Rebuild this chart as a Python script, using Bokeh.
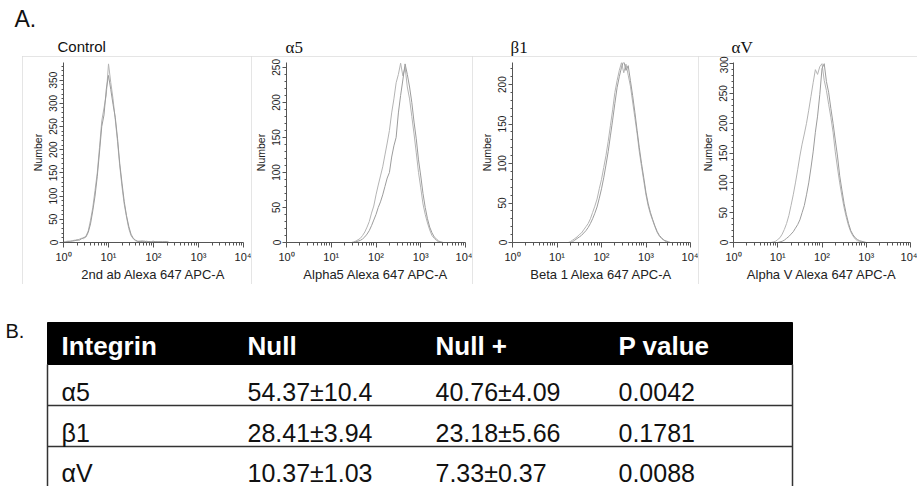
from bokeh.plotting import figure
from bokeh.layouts import column, row
from bokeh.models import Range1d, FixedTicker, SingleIntervalTicker, Label, Spacer
from bokeh.embed import file_html
from bokeh.resources import INLINE
from bokeh.core.properties import value

# ---------------- data ----------------
# Panel A histograms: log10 of fluorescence bin, counts of two overlaid samples
ctrl_logx = [0.00, 0.05, 0.10, 0.15, 0.20, 0.25, 0.30, 0.35, 0.40, 0.45,
             0.50, 0.55, 0.60, 0.65, 0.70, 0.75, 0.80, 0.85, 0.90, 0.95,
             1.00, 1.05, 1.10, 1.15, 1.20, 1.25, 1.30, 1.35, 1.40, 1.45,
             1.50, 1.55, 1.60, 1.65, 1.70, 1.75, 1.80, 1.85, 1.90, 1.95,
             2.00, 2.05, 2.10, 2.15, 2.20, 2.25, 2.30, 2.35, 2.40]
ctrl_a = [0, 2, 3, 2, 4, 5, 4, 7, 9, 8,
          14, 25, 48, 75, 112, 150, 205, 262, 290, 318,
          385, 345, 310, 265, 218, 165, 120, 82, 55, 30,
          15, 8, 4, 3, 2, 4, 2, 3, 1, 2,
          3, 1, 2, 1, 2, 1, 2, 0, 0]
ctrl_b = [1, 1, 2, 3, 3, 4, 6, 5, 8, 11,
          12, 22, 40, 68, 100, 142, 195, 250, 275, 330,
          360, 330, 298, 270, 225, 170, 128, 88, 58, 35,
          18, 9, 5, 2, 3, 2, 3, 1, 2, 1,
          2, 2, 1, 2, 1, 2, 1, 0, 0]

a5_logx = [1.40, 1.45, 1.50, 1.55, 1.60, 1.65, 1.70, 1.75, 1.80, 1.85,
           1.90, 1.95, 2.00, 2.05, 2.10, 2.15, 2.20, 2.25, 2.30, 2.35,
           2.40, 2.45, 2.50, 2.55, 2.60, 2.65, 2.70, 2.75, 2.80, 2.85,
           2.90, 2.95, 3.00, 3.05, 3.10, 3.15, 3.20, 3.25, 3.30, 3.35,
           3.40, 3.45, 3.50, 3.55, 3.60]
a5_a = [0, 0, 1, 2, 4, 6, 10, 15, 22, 30,
        42, 52, 68, 82, 95, 108, 125, 142, 160, 185,
        205, 228, 240, 256, 238, 250, 222, 205, 180, 155,
        128, 100, 78, 55, 40, 28, 18, 10, 6, 3,
        1, 0, 0, 0, 0]
a5_b = [0, 0, 0, 1, 2, 3, 5, 8, 12, 17,
        24, 32, 40, 50, 58, 68, 80, 92, 100, 122,
        138, 150, 185, 210, 232, 255, 240, 222, 200, 172,
        148, 118, 95, 70, 50, 34, 22, 14, 8, 5,
        2, 1, 0, 0, 0]

b1_logx = [1.20, 1.25, 1.30, 1.35, 1.40, 1.45, 1.50, 1.55, 1.60, 1.65,
           1.70, 1.75, 1.80, 1.85, 1.90, 1.95, 2.00, 2.05, 2.10, 2.15,
           2.20, 2.25, 2.30, 2.35, 2.40, 2.45, 2.50, 2.55, 2.60, 2.65,
           2.70, 2.75, 2.80, 2.85, 2.90, 2.95, 3.00, 3.05, 3.10, 3.15,
           3.20, 3.25, 3.30, 3.35, 3.40, 3.45, 3.50, 3.55, 3.60]
b1_a = [0, 0, 1, 3, 5, 7, 10, 12, 16, 20,
        24, 30, 38, 46, 55, 68, 80, 95, 110, 128,
        148, 168, 190, 205, 218, 228, 215, 226, 212, 198,
        178, 158, 138, 115, 96, 78, 60, 46, 36, 28,
        20, 13, 8, 5, 3, 1, 0, 0, 0]
b1_b = [0, 0, 0, 1, 3, 5, 7, 9, 12, 15,
        19, 24, 30, 37, 45, 56, 68, 82, 98, 115,
        135, 155, 176, 196, 210, 222, 230, 218, 224, 205,
        186, 165, 142, 120, 100, 82, 63, 49, 38, 29,
        21, 14, 9, 6, 3, 2, 1, 0, 0]

av_logx = [0.80, 0.85, 0.90, 0.95, 1.00, 1.05, 1.10, 1.15, 1.20, 1.25,
           1.30, 1.35, 1.40, 1.45, 1.50, 1.55, 1.60, 1.65, 1.70, 1.75,
           1.80, 1.85, 1.90, 1.95, 2.00, 2.05, 2.10, 2.15, 2.20, 2.25,
           2.30, 2.35, 2.40, 2.45, 2.50, 2.55, 2.60, 2.65, 2.70, 2.75,
           2.80, 2.85, 2.90, 2.95, 3.00, 3.05, 3.10]
av_a = [0, 0, 1, 2, 5, 8, 14, 22, 32, 45,
        62, 80, 100, 122, 145, 165, 182, 200, 222, 245,
        268, 290, 282, 295, 300, 272, 255, 232, 210, 185,
        152, 125, 100, 78, 58, 42, 28, 18, 11, 6,
        3, 2, 1, 0, 0, 0, 0]
av_b = [0, 0, 0, 0, 0, 1, 2, 4, 7, 10,
        14, 18, 24, 30, 38, 50, 62, 80, 100, 125,
        152, 185, 212, 248, 292, 300, 270, 252, 225, 200,
        172, 145, 112, 88, 65, 47, 32, 20, 13, 8,
        5, 3, 2, 1, 0, 0, 0]

panel_titles = ["Control", "\u03b15", "\u03b21", "\u03b1V"]
x_labels = ["2nd ab Alexa 647 APC-A", "Alpha5 Alexa 647 APC-A",
            "Beta 1 Alexa 647 APC-A", "Alpha V Alexa 647 APC-A"]
y_max = [388, 257, 228, 302]
x_tick_values = [1, 10, 100, 1000, 10000]
x_tick_labels = ["10\u2070", "10\u00b9", "10\u00b2", "10\u00b3", "10\u2074"]

# Panel B table
table_header = ["Integrin", "Null", "Null +", "P value"]
integrins = ["\u03b15", "\u03b21", "\u03b1V"]
null_vals = ["54.37\u00b110.4", "28.41\u00b13.94", "10.37\u00b11.03"]
nullplus_vals = ["40.76\u00b14.09", "23.18\u00b15.66", "7.33\u00b10.37"]
p_vals = ["0.0042", "0.1781", "0.0088"]

# ---------------- styling / layout ----------------
SANS = "Liberation Sans"
SERIF = "Liberation Serif"
AX = "#555555"
STRIP_H = 56
PANEL_H = 228

def make_panel(i, width, bl, br, bt, bb, logx, ya, yb):
    p = figure(width=width, height=PANEL_H, x_axis_type="log",
               x_range=Range1d(1, 1e4), y_range=Range1d(0, y_max[i]),
               output_backend="svg", toolbar_location=None,
               min_border_left=bl, min_border_right=br,
               min_border_top=bt, min_border_bottom=bb)
    xs = [10 ** v for v in logx]
    p.line(xs, ya, line_color="#b4b4b4", line_width=1)
    p.line(xs, yb, line_color="#9c9c9c", line_width=1)
    p.xgrid.visible = False
    p.ygrid.visible = False
    p.outline_line_color = None
    p.background_fill_color = "white"
    p.border_fill_color = "white"
    p.styles = {"outline": "1px solid #dcdcdc", "outline-offset": "-1px"}

    xa = p.xaxis[0]
    xa.ticker = FixedTicker(ticks=x_tick_values,
                            minor_ticks=[m * 10 ** k for k in range(4) for m in range(2, 10)])
    xa.major_label_overrides = {float(v): s for v, s in zip(x_tick_values, x_tick_labels)}
    xa.axis_line_color = AX
    xa.major_tick_line_color = AX
    xa.minor_tick_line_color = AX
    xa.major_tick_in = 0
    xa.major_tick_out = 5
    xa.minor_tick_in = 0
    xa.minor_tick_out = 3
    xa.major_label_text_font = SANS
    xa.major_label_text_font_size = "11px"
    xa.major_label_text_color = "#222222"
    xa.major_label_standoff = 3
    xa.axis_label = x_labels[i]
    xa.axis_label_text_font = SANS
    xa.axis_label_text_font_size = "13px"
    xa.axis_label_text_font_style = "normal"
    xa.axis_label_text_color = "#222222"
    xa.axis_label_standoff = 1

    yax = p.yaxis[0]
    yax.ticker = SingleIntervalTicker(interval=50, num_minor_ticks=5)
    yax.major_label_orientation = "vertical"
    yax.axis_line_color = AX
    yax.major_tick_line_color = AX
    yax.minor_tick_line_color = AX
    yax.major_tick_in = 0
    yax.major_tick_out = 4
    yax.minor_tick_in = 0
    yax.minor_tick_out = 2
    yax.major_label_text_font = SANS
    yax.major_label_text_font_size = "10px"
    yax.major_label_text_color = "#222222"
    yax.major_label_standoff = 2
    yax.axis_label = "Number"
    yax.axis_label_text_font = SANS
    yax.axis_label_text_font_size = "10.5px"
    yax.axis_label_text_font_style = "normal"
    yax.axis_label_text_color = "#222222"
    yax.axis_label_standoff = 3
    return p

p1 = make_panel(0, 229, 41, 8, 6, 41, ctrl_logx, ctrl_a, ctrl_b)
p2 = make_panel(1, 221, 34, 7, 6, 42, a5_logx, a5_a, a5_b)
p3 = make_panel(2, 226, 40, 8, 6, 42, b1_logx, b1_a, b1_b)
p4 = make_panel(3, 219, 35, 7, 4, 42, av_logx, av_a, av_b)

# top strip with "A." and panel titles
strip = figure(width=917, height=STRIP_H, x_range=Range1d(0, 917), y_range=Range1d(STRIP_H, 0),
               output_backend="svg", toolbar_location=None,
               x_axis_location=None, y_axis_location=None, min_border=0)
strip.xgrid.visible = False
strip.ygrid.visible = False
strip.outline_line_color = None
strip.add_layout(Label(x=14, y=18.5, text="A.", text_font=SANS, text_font_size="23px",
                       text_color="#111111", text_baseline="middle"))
title_x = [57, 285, 510, 731]
title_y = [46, 47, 47, 47]
title_font = [SANS, SERIF, SERIF, SERIF]
title_size = ["15px", "17px", "17px", "17px"]
for tx, ty, tt, tf, ts in zip(title_x, title_y, panel_titles, title_font, title_size):
    strip.add_layout(Label(x=tx, y=ty, text=tt, text_font=tf, text_font_size=ts,
                           text_color="#111111", text_baseline="middle"))

# table (panel B)
TABLE_TOP = STRIP_H + PANEL_H
TL, TR = 47, 792
HDR_TOP, HDR_BOT = 322, 364
ROW_LINES = [405, 446]
col_x = [61, 247, 435, 618]
hdr_mid = 345.5
row_mid = [391, 432, 472]

t = figure(width=917, height=486 - TABLE_TOP, x_range=Range1d(0, 917), y_range=Range1d(486, TABLE_TOP),
           output_backend="svg", toolbar_location=None,
           x_axis_location=None, y_axis_location=None, min_border=0)
t.xgrid.visible = False
t.ygrid.visible = False
t.outline_line_color = None
t.add_layout(Label(x=5, y=330, text="B.", text_font=SANS, text_font_size="20px",
                   text_color="#111111", text_baseline="middle"))
t.quad(left=[TL], right=[TR], top=[HDR_TOP], bottom=[HDR_BOT], fill_color="black", line_color="black")
t.segment(x0=[TL] * len(ROW_LINES), y0=ROW_LINES, x1=[TR] * len(ROW_LINES), y1=ROW_LINES,
          line_color="#333333", line_width=1.5)
t.segment(x0=[TL, TR], y0=[HDR_BOT, HDR_BOT], x1=[TL, TR], y1=[486, 486],
          line_color="#333333", line_width=1.5)
t.text(x=col_x, y=[hdr_mid] * 4, text=table_header, text_font=value(SANS),
       text_font_size="26px", text_font_style="bold", text_color="white",
       text_baseline="middle", text_align="left")
cx, cy, ct = [], [], []
for r, vals in enumerate(zip(integrins, null_vals, nullplus_vals, p_vals)):
    for c, v in enumerate(vals):
        cx.append(col_x[c])
        cy.append(row_mid[r])
        ct.append(v)
t.text(x=cx, y=cy, text=ct, text_font=value(SANS), text_font_size="25px",
       text_color="#111111", text_baseline="middle", text_align="left")

layout = column(strip, row(Spacer(width=22, height=PANEL_H), p1, p2, p3, p4), t)

open("out.html", "w").write(file_html(layout, INLINE))
